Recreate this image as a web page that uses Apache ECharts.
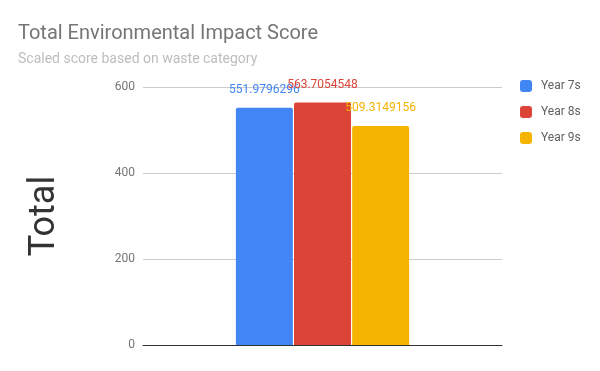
<!DOCTYPE html>
<html><head><meta charset="utf-8">
<script src="https://cdn.jsdelivr.net/npm/echarts@6/dist/echarts.min.js"></script>
<style>html,body{margin:0;padding:0;background:#fff}#c{width:600px;height:371px}</style>
</head><body><div id="c"></div>
<script>
const categories = [''];
const seriesNames = ['Year 7s', 'Year 8s', 'Year 9s'];
const year7 = [551.9796296];
const year8 = [563.7054548];
const year9 = [509.3149156];
const yTicks = [0, 200, 400, 600];
const colors = ['#4285f4', '#db4437', '#f4b400'];
const values = [year7, year8, year9];

const chart = echarts.init(document.getElementById('c'));
chart.setOption({
  animation: false,
  textStyle: { fontFamily: 'Roboto' },
  title: {
    text: 'Total Environmental Impact Score',
    subtext: 'Scaled score based on waste category',
    left: 13, top: 19,
    itemGap: 8,
    textStyle: { fontFamily: 'Roboto', fontSize: 20, fontWeight: 'normal', color: '#757575' },
    subtextStyle: { fontFamily: 'Roboto', fontSize: 14, color: '#bdbdbd' }
  },
  legend: {
    orient: 'vertical', left: 515, top: 75,
    itemWidth: 12, itemHeight: 12, itemGap: 14,
    icon: 'roundRect',
    textStyle: { fontFamily: 'Roboto', fontSize: 12, color: '#616161', padding: [0, 0, 0, 4] },
    data: seriesNames
  },
  grid: { left: 143, right: 98, top: 87, bottom: 26 },
  xAxis: {
    type: 'category', data: categories,
    axisLine: { lineStyle: { color: '#333', width: 1 } },
    axisTick: { show: false }, axisLabel: { show: false }
  },
  yAxis: {
    type: 'value', min: 0, max: 600, interval: 200,
    name: 'Total', nameLocation: 'middle', nameGap: 80,
    nameTextStyle: { fontFamily: 'Roboto', fontSize: 36, color: '#333' },
    axisLine: { show: false },
    axisTick: { show: false },
    axisLabel: { color: '#757575', fontSize: 12, margin: 8,
      formatter: v => yTicks.includes(v) ? String(v) : '' },
    splitLine: { lineStyle: { color: '#cccccc' } }
  },
  series: seriesNames.map((n, i) => ({
    name: n, type: 'bar', data: values[i],
    barWidth: 57, barGap: '2%',
    itemStyle: { color: colors[i], borderRadius: [2, 2, 0, 0] },
    label: { show: true, position: 'top', distance: 12, color: colors[i],
      fontFamily: 'Roboto', fontSize: 12,
      formatter: p => String(p.value) }
  }))
});
</script></body></html>
